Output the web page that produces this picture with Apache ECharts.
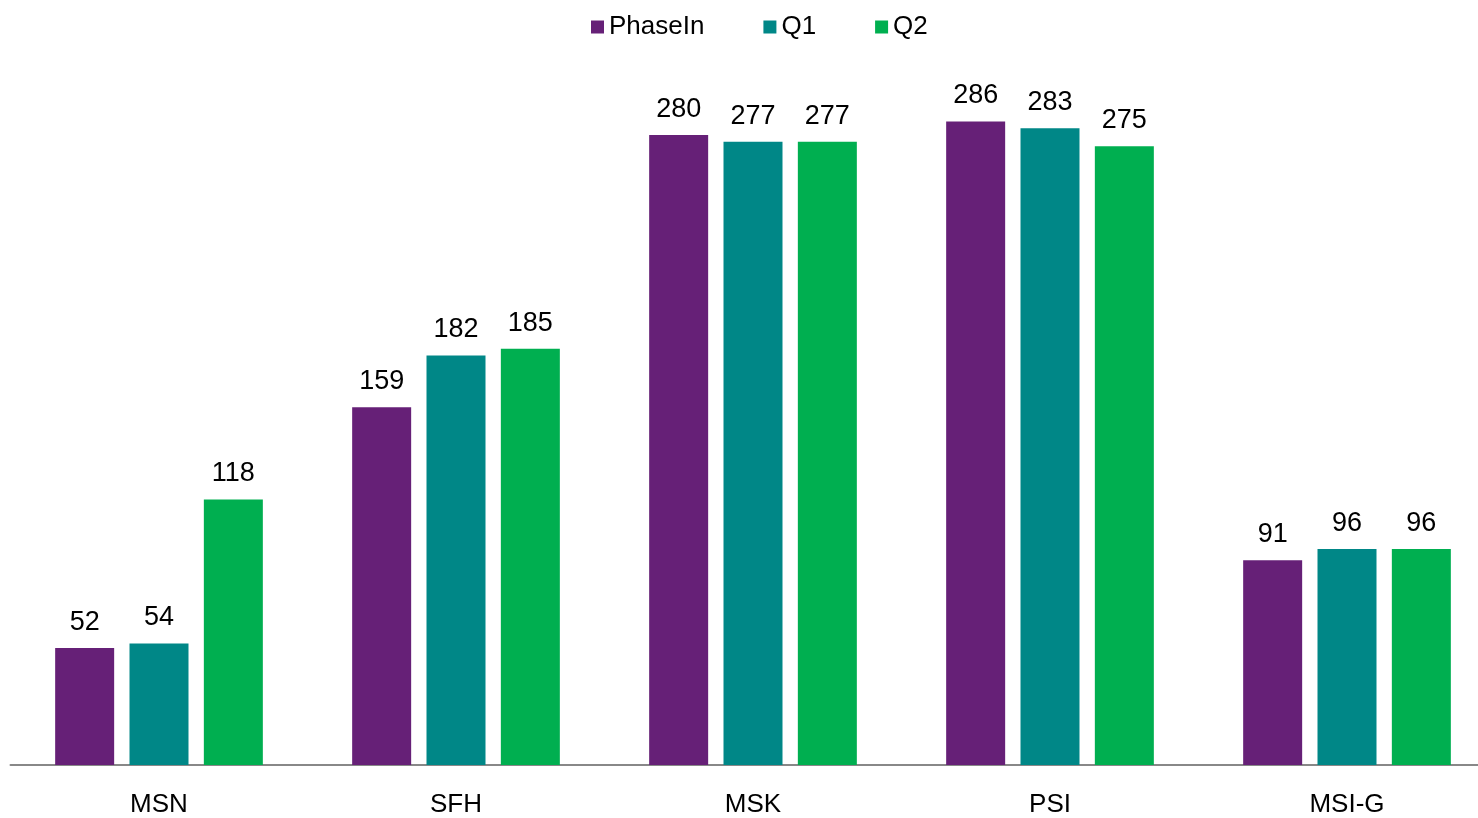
<!DOCTYPE html>
<html>
<head>
<meta charset="utf-8">
<script src="https://cdn.jsdelivr.net/npm/echarts@6/dist/echarts.min.js"></script>
<style>
html,body{margin:0;padding:0;background:#fff;}
#chart{width:1478px;height:818px;}
</style>
</head>
<body>
<div id="chart"></div>
<script>
var categories = ['MSN', 'SFH', 'MSK', 'PSI', 'MSI-G'];
var phaseIn = [52, 159, 280, 286, 91];
var q1 = [54, 182, 277, 283, 96];
var q2 = [118, 185, 277, 275, 96];

var font = 'Liberation Sans, Arial, sans-serif';

function barSeries(name, data, color){
    return {
        name: name,
        type: 'bar',
        data: data,
        barWidth: 59,
        barGap: '26%',
        itemStyle: { color: color },
        label: {
            show: true,
            position: 'top',
            distance: 12,
            color: '#000',
            fontSize: 27,
            fontFamily: font
        }
    };
}

var option = {
    animation: false,
    legend: {
        top: 9,
        left: 586,
        itemWidth: 13,
        itemHeight: 13,
        itemGap: 59,
        icon: 'rect',
        textStyle: { fontSize: 26, fontFamily: font, color: '#000' },
        data: ['PhaseIn', 'Q1', 'Q2']
    },
    grid: { left: 10.5, top: 90, width: 1485, height: 675, outerBoundsMode: 'none', containLabel: false },
    xAxis: {
        type: 'category',
        data: categories,
        axisLine: { lineStyle: { color: '#888', width: 2 } },
        axisTick: { show: false },
        axisLabel: { color: '#000', fontSize: 26, fontFamily: font, margin: 27 }
    },
    yAxis: {
        type: 'value',
        min: 0,
        max: 300,
        show: false,
        splitLine: { show: false }
    },
    series: [
        barSeries('PhaseIn', phaseIn, '#662077'),
        barSeries('Q1', q1, '#008787'),
        barSeries('Q2', q2, '#00AF50')
    ]
};

var chart = echarts.init(document.getElementById('chart'));
chart.setOption(option);
</script>
</body>
</html>
